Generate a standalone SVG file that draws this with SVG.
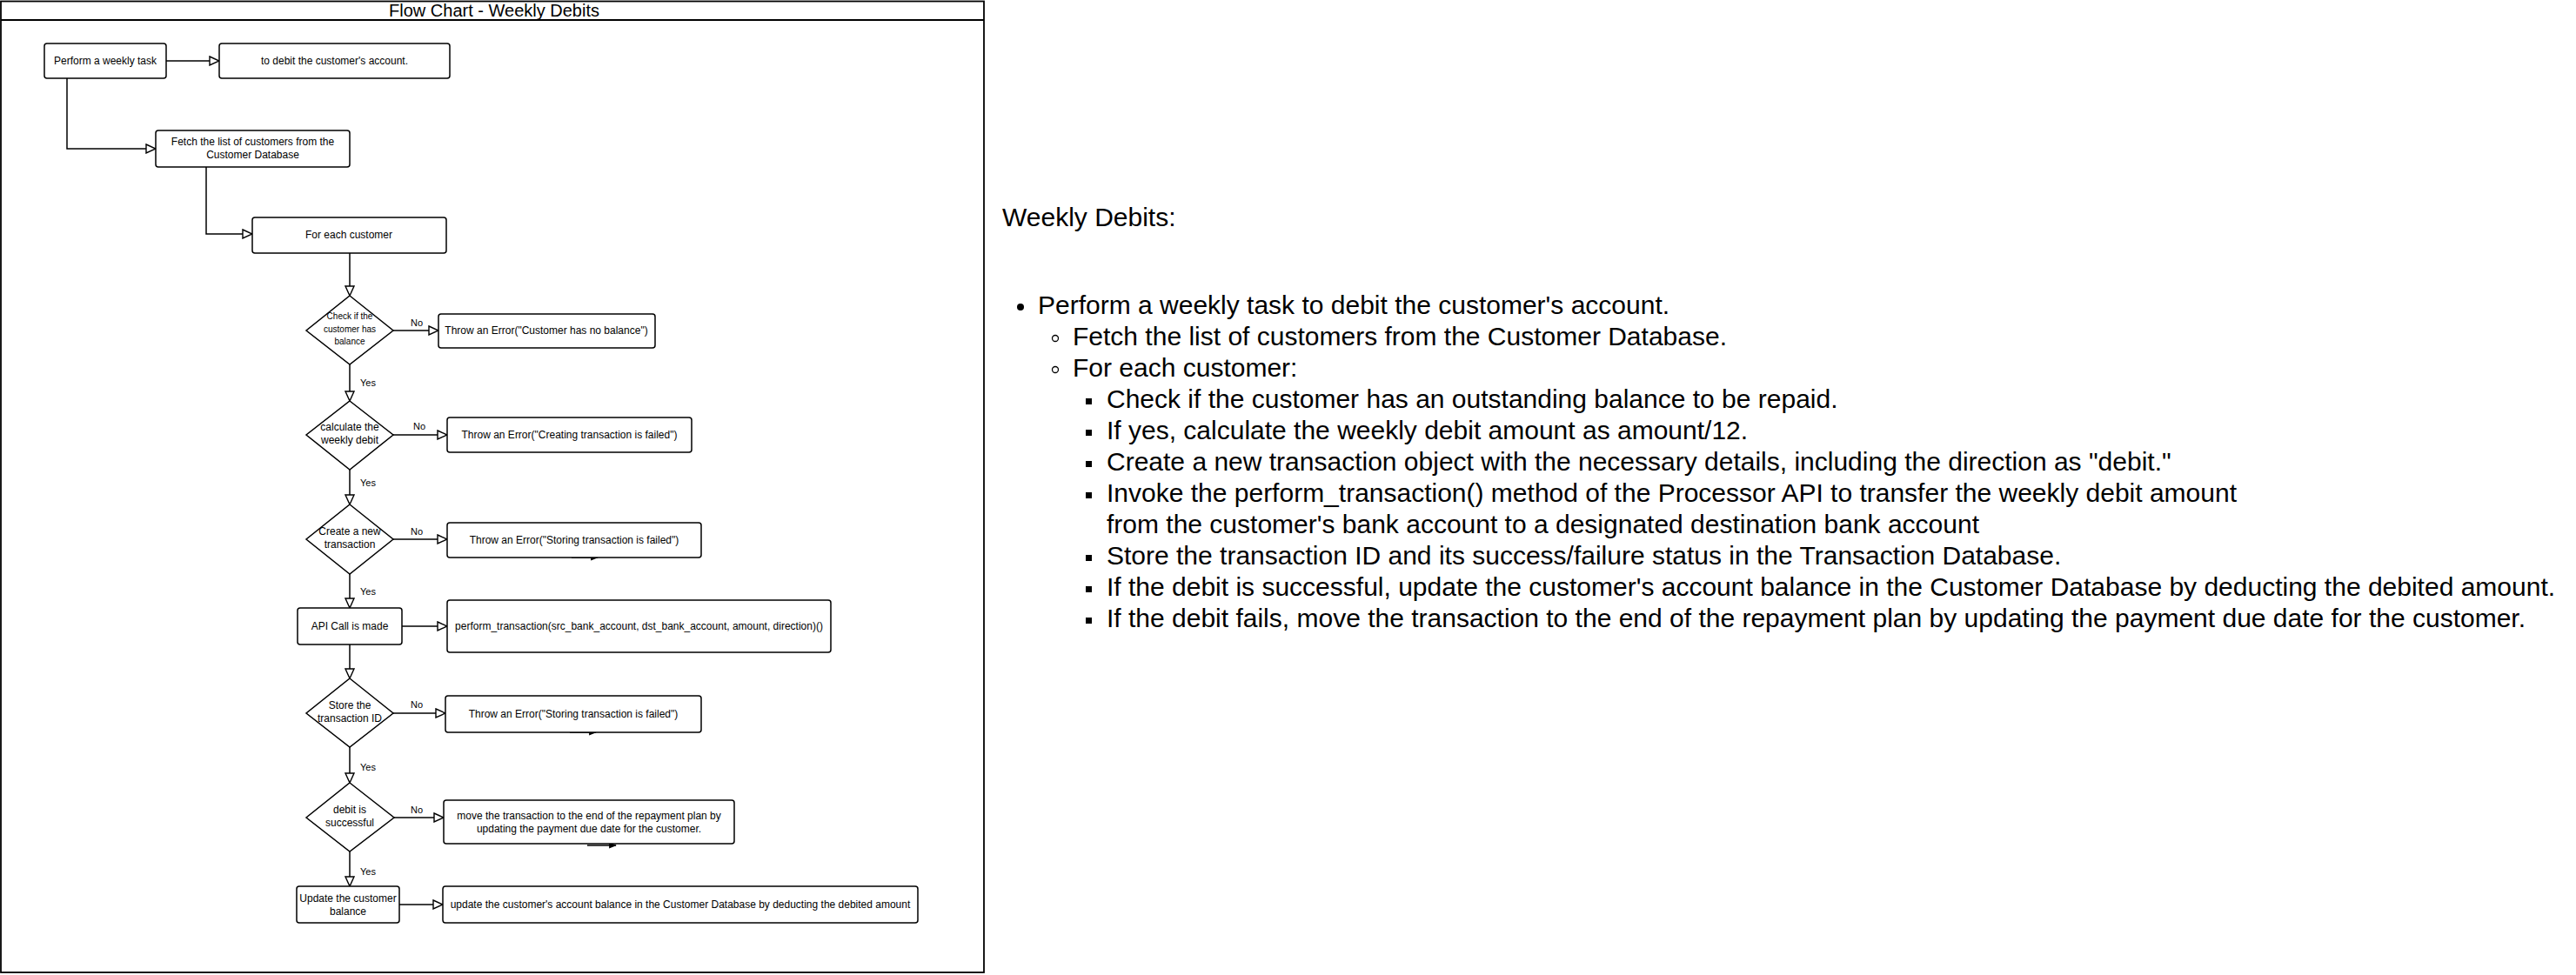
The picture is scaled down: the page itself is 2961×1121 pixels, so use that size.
<svg xmlns="http://www.w3.org/2000/svg" width="2961" height="1121" viewBox="0 0 2961 1121">
<style>
.box{fill:#fff;stroke:#000;stroke-width:1.5}
.dia{fill:#fff;stroke:#000;stroke-width:1.5;stroke-linejoin:miter}
.t{font-family:"Liberation Sans",Arial,sans-serif;font-size:12px;fill:#000;text-anchor:middle}
.ts{font-family:"Liberation Sans",Arial,sans-serif;font-size:10px;fill:#000;text-anchor:middle}
.lbl{font-family:"Liberation Sans",Arial,sans-serif;font-size:11px;fill:#000;text-anchor:middle}
.edge{fill:none;stroke:#000;stroke-width:1.5;marker-end:url(#open)}
.stub{fill:none;stroke:#000;stroke-width:1.5;marker-end:url(#solid)}
.doc{font-family:"Liberation Sans",Arial,sans-serif;font-size:30px;fill:#000}
.title{font-family:"Liberation Sans",Arial,sans-serif;font-size:20px;fill:#000;text-anchor:middle}
</style>
<defs>
<marker id="open" viewBox="0 0 13 12" refX="12" refY="6" markerWidth="13" markerHeight="12" markerUnits="userSpaceOnUse" orient="auto">
<path d="M1,1 L12,6 L1,11 Z" fill="#fff" stroke="#000" stroke-width="1.4"/>
</marker>
<marker id="solid" viewBox="0 0 10 8" refX="9" refY="4" markerWidth="9" markerHeight="7" markerUnits="userSpaceOnUse" orient="auto">
<path d="M0,0 L10,4 L0,8 Z" fill="#000"/>
</marker>
</defs>
<rect width="2961" height="1121" fill="#fff"/>
<g id="frame">
<rect x="1" y="1.5" width="1130" height="1116.5" fill="none" stroke="#000" stroke-width="1.8"/>
<line x1="1" y1="23" x2="1131" y2="23" stroke="#000" stroke-width="1.8"/>
<text class="title" x="568" y="19">Flow Chart - Weekly Debits</text>
</g>
<g id="connectors">
<path class="edge" d="M191,70 L252,70"/>
<path class="edge" d="M77,90 L77,171 L179,171"/>
<path class="edge" d="M237,192 L237,269 L290,269"/>
<path class="edge" d="M402,291 L402,340"/>
<path class="edge" d="M452,380 L504,380"/>
<text class="lbl" x="479" y="375">No</text>
<path class="edge" d="M402,419 L402,461"/>
<text class="lbl" x="423" y="444">Yes</text>
<path class="edge" d="M452,500 L514,500"/>
<text class="lbl" x="482" y="494">No</text>
<path class="edge" d="M402,540 L402,580"/>
<text class="lbl" x="423" y="559">Yes</text>
<path class="edge" d="M452,620 L514,620"/>
<text class="lbl" x="479" y="615">No</text>
<path class="edge" d="M402,660 L402,699"/>
<text class="lbl" x="423" y="684">Yes</text>
<path class="edge" d="M462,720 L514,720"/>
<path class="edge" d="M402,741 L402,780"/>
<path class="edge" d="M452,820 L512,820"/>
<text class="lbl" x="479" y="814">No</text>
<path class="edge" d="M402,859 L402,900"/>
<text class="lbl" x="423" y="886">Yes</text>
<path class="edge" d="M453,940 L510,940"/>
<text class="lbl" x="479" y="935">No</text>
<path class="edge" d="M402,979 L402,1019"/>
<text class="lbl" x="423" y="1006">Yes</text>
<path class="edge" d="M459,1040 L509,1040"/>
<path class="stub" d="M657,641 L687,641"/>
<path class="stub" d="M655,842 L685,842"/>
<path class="stub" d="M675,972 L708,972"/>
</g>
<g id="n-perform">
<rect class="box" x="51" y="50" width="140" height="40" rx="3"/>
<text class="t" x="121" y="74">Perform a weekly task</text>
</g>
<g id="n-debit">
<rect class="box" x="252" y="50" width="265" height="40" rx="3"/>
<text class="t" x="384.5" y="74">to debit the customer's account.</text>
</g>
<g id="n-fetch">
<rect class="box" x="179" y="150" width="223" height="42" rx="3"/>
<text class="t" x="290.5" y="167">Fetch the list of customers from the</text>
<text class="t" x="290.5" y="182">Customer Database</text>
</g>
<g id="n-foreach">
<rect class="box" x="290" y="250" width="223" height="41" rx="3"/>
<text class="t" x="401" y="274">For each customer</text>
</g>
<g id="d-balance">
<polygon class="dia" points="402,340 452,380 402,419 352,380"/>
<text class="ts" x="402" y="367">Check if the</text>
<text class="ts" x="402" y="382">customer has</text>
<text class="ts" x="402" y="396">balance</text>
</g>
<g id="e-nobalance">
<rect class="box" x="504" y="361" width="249" height="39" rx="3"/>
<text class="t" x="628" y="384">Throw an Error("Customer has no balance")</text>
</g>
<g id="d-calc">
<polygon class="dia" points="402,461 452,500 402,540 352,500"/>
<text class="t" x="402" y="495">calculate the</text>
<text class="t" x="402" y="510">weekly debit</text>
</g>
<g id="e-creating">
<rect class="box" x="514" y="480" width="281" height="40" rx="3"/>
<text class="t" x="654.5" y="504">Throw an Error("Creating transaction is failed")</text>
</g>
<g id="d-create">
<polygon class="dia" points="402,580 452,620 402,660 352,620"/>
<text class="t" x="402" y="615">Create a new</text>
<text class="t" x="402" y="630">transaction</text>
</g>
<g id="e-storing1">
<rect class="box" x="514" y="601" width="292" height="40" rx="3"/>
<text class="t" x="660" y="625">Throw an Error("Storing transaction is failed")</text>
</g>
<g id="n-api">
<rect class="box" x="342" y="699" width="120" height="42" rx="3"/>
<text class="t" x="402" y="724">API Call is made</text>
</g>
<g id="n-perform-tx">
<rect class="box" x="514" y="690" width="441" height="60" rx="3"/>
<text class="t" x="734.5" y="724">perform_transaction(src_bank_account, dst_bank_account, amount, direction)()</text>
</g>
<g id="d-store">
<polygon class="dia" points="402,780 452,820 402,859 352,820"/>
<text class="t" x="402" y="815">Store the</text>
<text class="t" x="402" y="830">transaction ID</text>
</g>
<g id="e-storing2">
<rect class="box" x="512" y="800" width="294" height="42" rx="3"/>
<text class="t" x="659" y="825">Throw an Error("Storing transaction is failed")</text>
</g>
<g id="d-success">
<polygon class="dia" points="402,900 453,940 402,979 352,940"/>
<text class="t" x="402" y="935">debit is</text>
<text class="t" x="402" y="950">successful</text>
</g>
<g id="e-move">
<rect class="box" x="510" y="920" width="334" height="50" rx="3"/>
<text class="t" x="677" y="942">move the transaction to the end of the repayment plan by</text>
<text class="t" x="677" y="957">updating the payment due date for the customer.</text>
</g>
<g id="n-update">
<rect class="box" x="341" y="1019" width="118" height="42" rx="3"/>
<text class="t" x="400" y="1037">Update the customer</text>
<text class="t" x="400" y="1052">balance</text>
</g>
<g id="n-update-desc">
<rect class="box" x="509" y="1019" width="546" height="42" rx="3"/>
<text class="t" x="782" y="1044">update the customer's account balance in the Customer Database by deducting the debited amount</text>
</g>
<g id="notes">
<text class="doc" x="1152" y="260">Weekly Debits:</text>
<circle cx="1173" cy="353" r="4"/>
<text class="doc" x="1193" y="361">Perform a weekly task to debit the customer's account.</text>
<circle cx="1213" cy="389" r="3.5" fill="none" stroke="#000" stroke-width="1.3"/>
<text class="doc" x="1233" y="397">Fetch the list of customers from the Customer Database.</text>
<circle cx="1213" cy="425" r="3.5" fill="none" stroke="#000" stroke-width="1.3"/>
<text class="doc" x="1233" y="433">For each customer:</text>
<rect x="1248" y="458" width="7" height="7"/>
<text class="doc" x="1272" y="469">Check if the customer has an outstanding balance to be repaid.</text>
<rect x="1248" y="494" width="7" height="7"/>
<text class="doc" x="1272" y="505">If yes, calculate the weekly debit amount as amount/12.</text>
<rect x="1248" y="530" width="7" height="7"/>
<text class="doc" x="1272" y="541">Create a new transaction object with the necessary details, including the direction as "debit."</text>
<rect x="1248" y="566" width="7" height="7"/>
<text class="doc" x="1272" y="577">Invoke the perform_transaction() method of the Processor API to transfer the weekly debit amount</text>
<text class="doc" x="1272" y="613">from the customer's bank account to a designated destination bank account</text>
<rect x="1248" y="638" width="7" height="7"/>
<text class="doc" x="1272" y="649">Store the transaction ID and its success/failure status in the Transaction Database.</text>
<rect x="1248" y="674" width="7" height="7"/>
<text class="doc" x="1272" y="685">If the debit is successful, update the customer's account balance in the Customer Database by deducting the debited amount.</text>
<rect x="1248" y="710" width="7" height="7"/>
<text class="doc" x="1272" y="721">If the debit fails, move the transaction to the end of the repayment plan by updating the payment due date for the customer.</text>
</g>
</svg>
